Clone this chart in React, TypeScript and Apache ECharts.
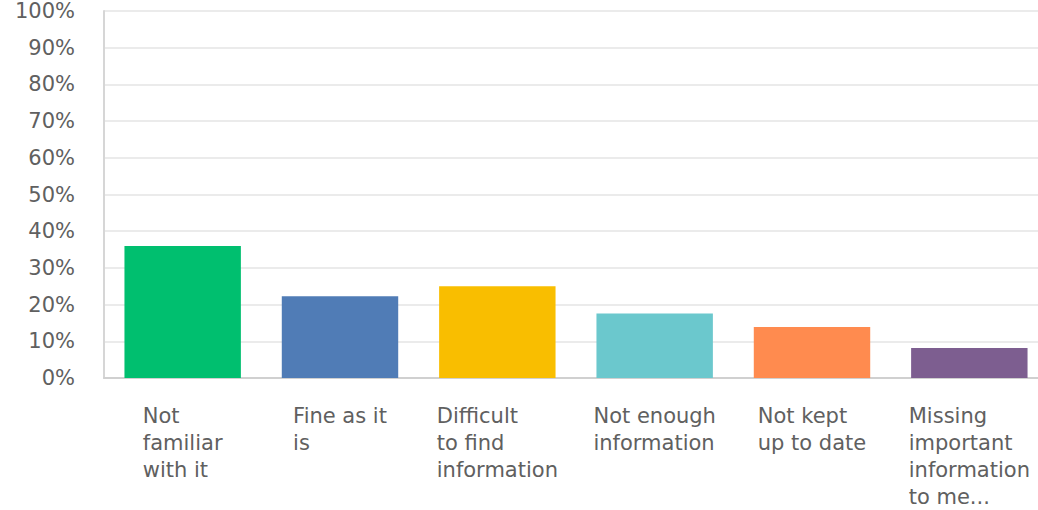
import React, { useEffect, useRef } from "react";
import * as echarts from "echarts";

const categories = [
  "Not\nfamiliar\nwith it",
  "Fine as it\nis",
  "Difficult\nto find\ninformation",
  "Not enough\ninformation",
  "Not kept\nup to date",
  "Missing\nimportant\ninformation\nto me...",
];
const values = [36.0, 22.3, 25.0, 17.6, 13.9, 8.2];
const colors = ["#00BF6F", "#507CB6", "#F9BE00", "#6BC8CD", "#FF8B4F", "#7D5E90"];
const yTicks = [0, 10, 20, 30, 40, 50, 60, 70, 80, 90, 100];

export default function App() {
  const ref = useRef<HTMLDivElement>(null);
  useEffect(() => {
    document.body.style.margin = "0";
    document.body.style.overflow = "hidden";
    const chart = echarts.init(ref.current!, undefined, { renderer: "svg" });
    const font = "'DejaVu Sans', 'Open Sans', sans-serif";
    chart.setOption({
      animation: false,
      grid: { left: 104, top: 11, bottom: 132, right: 0, containLabel: false },
      xAxis: {
        type: "category",
        data: categories,
        axisLine: { show: true, lineStyle: { color: "#d0d0d0", width: 2 } },
        axisTick: { show: false },
        axisLabel: {
          interval: 0,
          margin: 24,
          align: "center",
          verticalAlign: "top",
          formatter: (v: string) =>
            v
              .split("\n")
              .map((l) => `{a|${l}}`)
              .join("\n"),
          rich: {
            a: {
              align: "left",
              fontSize: 21,
              lineHeight: 27,
              color: "#606060",
              fontFamily: font,
            },
          },
        },
      },
      yAxis: {
        type: "value",
        min: yTicks[0],
        max: yTicks[yTicks.length - 1],
        interval: 10,
        axisLine: { show: true, lineStyle: { color: "#d6d6d6", width: 2 } },
        axisTick: { show: false },
        splitLine: { show: true, lineStyle: { color: "#ebebeb", width: 2 } },
        axisLabel: {
          margin: 29,
          padding: [6, 0, 0, 0],
          formatter: "{value}%",
          fontSize: 21,
          color: "#606060",
          fontFamily: font,
        },
      },
      series: [
        {
          type: "bar",
          barCategoryGap: "26%",
          data: values.map((v, i) => ({ value: v, itemStyle: { color: colors[i] } })),
        },
      ],
    });
    return () => chart.dispose();
  }, []);
  return (
    <div style={{ width: 1038, height: 510, overflow: "hidden" }}>
      <div ref={ref} style={{ width: 1048, height: 510 }} />
    </div>
  );
}
